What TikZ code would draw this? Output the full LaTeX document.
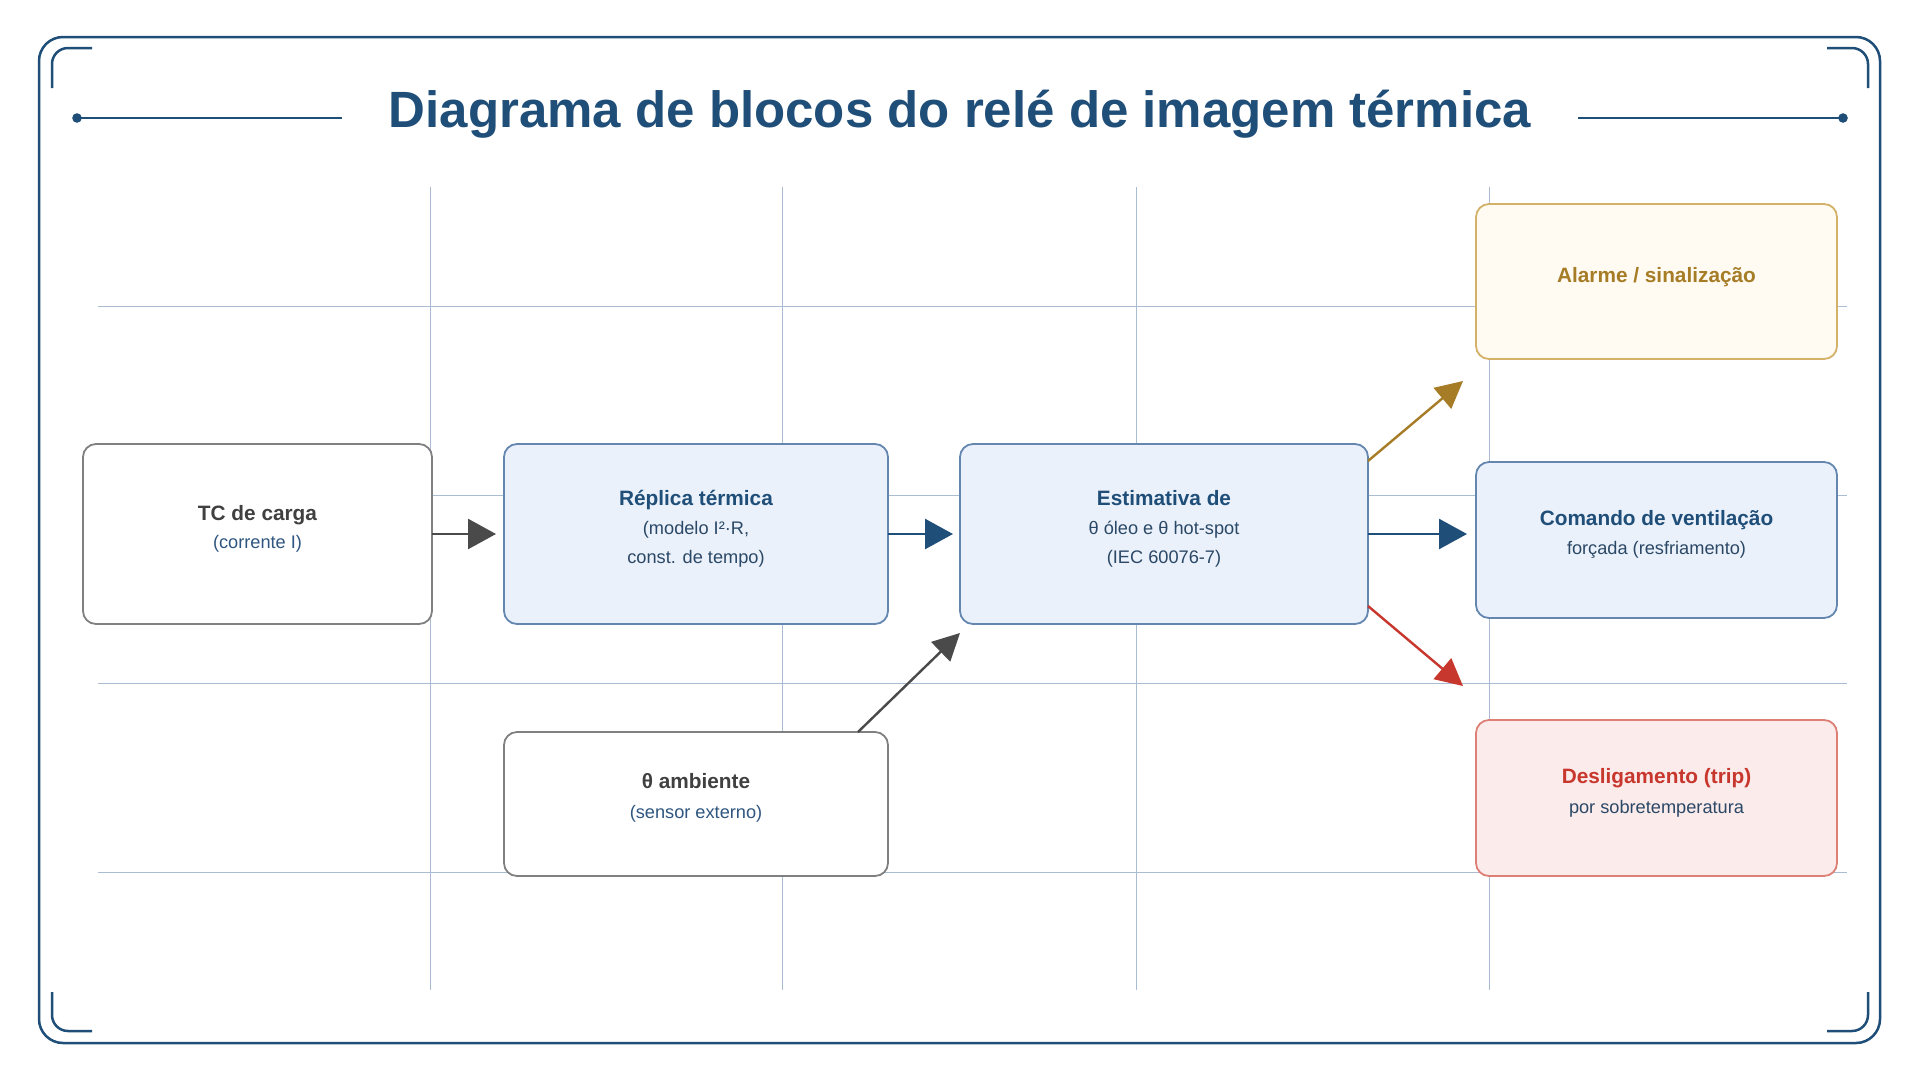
\documentclass[tikz,border=0pt]{standalone}
\usepackage{fontspec}
\setmainfont{Liberation Sans}
\usetikzlibrary{arrows.meta}
\definecolor{cblue}{HTML}{1F4E79}
\definecolor{cgrid}{HTML}{A9BCD4}
\definecolor{cgray}{HTML}{4A4A4A}
\definecolor{cgold}{HTML}{A67C26}
\definecolor{cred}{HTML}{C8372D}
\definecolor{csub}{HTML}{2B4866}
\definecolor{csubb}{HTML}{2F5680}
\definecolor{HTML6586AE}{HTML}{6586AE}
\definecolor{HTMLEAF1FA}{HTML}{EAF1FA}
\definecolor{HTMLD3B169}{HTML}{D3B169}
\definecolor{HTMLFFFBF2}{HTML}{FFFBF2}
\definecolor{HTMLDE7F76}{HTML}{DE7F76}
\definecolor{HTMLFBEBEB}{HTML}{FBEBEB}
\tikzset{
  frame/.style={draw=cblue, line width=2.5pt},
  gridline/.style={draw=cgrid, line width=1pt},
  box/.style={rectangle, rounded corners=13pt, line width=1.8pt, inner sep=0pt, outer sep=0pt},
  boxgray/.style={box, draw=black!50, fill=white},
  boxblue/.style={box, draw=HTML6586AE, fill=HTMLEAF1FA},
  boxgold/.style={box, draw=HTMLD3B169, fill=HTMLFFFBF2},
  boxred/.style={box, draw=HTMLDE7F76, fill=HTMLFBEBEB},
  hd/.style={font=\fontsize{20.8}{24}\selectfont\bfseries, anchor=base, inner sep=0pt},
  sb/.style={font=\fontsize{18.2}{22}\selectfont, anchor=base, inner sep=0pt, text=csub},
  arr/.style={line width=2.6pt, -{Triangle[length=28pt,width=30pt]}},
  darr/.style={line width=2.4pt, -{Triangle[length=27pt,width=27pt]}},
}
\begin{document}
\begin{tikzpicture}[x=1pt, y=-1pt]
\useasboundingbox (0,0) rectangle (1920,1080);
\fill[white] (0,0) rectangle (1920,1080);
% outer frame
\draw[frame, rounded corners=24pt] (39,37) rectangle (1880,1043);
% corner brackets
\draw[frame, rounded corners=16pt] (52,88) -- (52,48) -- (92,48);
\draw[frame, rounded corners=16pt] (1827,48) -- (1868,48) -- (1868,88);
\draw[frame, rounded corners=16pt] (52,992) -- (52,1031) -- (92,1031);
\draw[frame, rounded corners=16pt] (1827,1031) -- (1868,1031) -- (1868,992);
% title
\node[font=\fontsize{51}{60}\selectfont\bfseries, text=cblue, anchor=base, inner sep=0pt] (title) at (960,127) {Diagrama de blocos do relé de imagem térmica};
\draw[cblue, line width=1.6pt] (77,118) -- (342,118);
\fill[cblue] (77,118) circle (4.8pt);
\draw[cblue, line width=1.6pt] (1578,118) -- (1843,118);
\fill[cblue] (1843,118) circle (4.8pt);
% grid
\foreach \gx in {430,782,1136,1489} \draw[gridline] (\gx,187) -- (\gx,990);
\foreach \gy in {306,495,683,872} \draw[gridline] (98,\gy) -- (1847,\gy);
% boxes
\node[boxgray, minimum width=349pt, minimum height=180pt] (tc) at (257.5,534) {};
\node[boxblue, minimum width=384pt, minimum height=180pt] (rep) at (696,534) {};
\node[boxblue, minimum width=408pt, minimum height=180pt] (est) at (1164,534) {};
\node[boxgold, minimum width=361pt, minimum height=155pt] (alm) at (1656.5,281.5) {};
\node[boxblue, minimum width=361pt, minimum height=156pt] (com) at (1656.5,540) {};
\node[boxred, minimum width=361pt, minimum height=156pt] (trip) at (1656.5,798) {};
\node[boxgray, minimum width=384pt, minimum height=144pt] (amb) at (696,804) {};
% texts
\node[hd, text=black!75] (tc1) at (257.5,520) {TC de carga};
\node[sb, text=csubb] (tc2) at (257.5,548) {(corrente I)};
\node[hd, text=cblue] (rep1) at (696,505) {Réplica térmica};
\node[sb] (rep2) at (696,534) {(modelo I²·R,};
\node[sb] (rep3) at (696,563) {const. de tempo)};
\node[hd, text=cblue] (est1) at (1164,505) {Estimativa de};
\node[sb] (est2) at (1164,534) {θ óleo e θ hot-spot};
\node[sb] (est3) at (1164,563) {(IEC 60076-7)};
\node[hd, text=cgold] (alm1) at (1656.5,282) {Alarme / sinalização};
\node[hd, text=cblue] (com1) at (1656.5,525) {Comando de ventilação};
\node[sb] (com2) at (1656.5,554) {forçada (resfriamento)};
\node[hd, text=cred] (trip1) at (1656.5,783) {Desligamento (trip)};
\node[sb] (trip2) at (1656.5,813) {por sobretemperatura};
\node[hd, text=black!75] (amb1) at (696,788) {θ ambiente};
\node[sb, text=csubb] (amb2) at (696,818) {(sensor externo)};
% connectors
\coordinate (almtip) at (1463,381);
\coordinate (triptip) at (1463,686);
\coordinate (esttip) at (960,633);
\draw[arr, cgray, shorten >=8pt] (tc) -- (rep);
\draw[arr, cblue, shorten >=7pt] (rep) -- (est);
\draw[arr, cblue, shorten >=9pt] (est.east) -- (est.east -| com.west);
\draw[darr, cgold] ([yshift=-17pt]est.north east) -- (almtip);
\draw[darr, cred] ([yshift=18pt]est.south east) -- (triptip);
\draw[darr, cgray] ([xshift=-30pt]amb.north east) -- (esttip);
\end{tikzpicture}
\end{document}
